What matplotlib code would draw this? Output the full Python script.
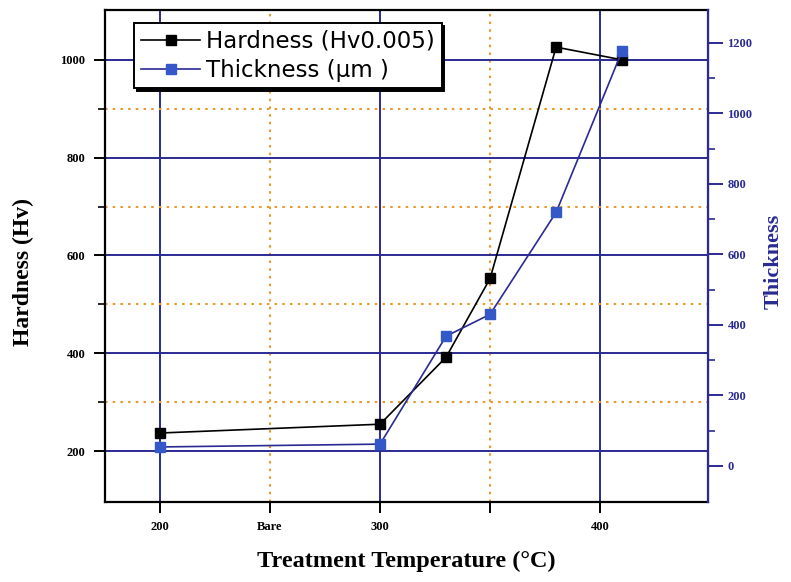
import matplotlib
matplotlib.use("Agg")
import matplotlib.pyplot as plt
from matplotlib.ticker import FixedLocator

# Data
temps = [200, 300, 330, 350, 380, 410]
hardness = [237, 255, 392, 553, 1026, 1000]
thickness = [54, 62, 368, 430, 719, 1177]

x_major = [200, 300, 400]
x_major_labels = ["200", "300", "400"]
x_minor = [250, 350]
x_minor_labels = ["Bare", ""]
h_major = [200, 400, 600, 800, 1000]
h_minor = [300, 500, 700, 900]
t_major = [0, 200, 400, 600, 800, 1000, 1200]
t_minor = [100, 300, 500, 700, 900, 1100]

navy = "#2a2a94"
orange = "#e89a2a"
blue_marker = "#3558c8"

fig = plt.figure(figsize=(7.91, 5.82), dpi=100)
ax = fig.add_axes([0.1327, 0.1375, 0.7623, 0.8454])
ax2 = ax.twinx()

serif = "Liberation Serif"

ax.set_xlim(175, 449)
ax.set_ylim(96, 1102)
ax2.set_ylim(-102, 1293)

ax.xaxis.set_major_locator(FixedLocator(x_major))
ax.set_xticklabels(x_major_labels)
ax.xaxis.set_minor_locator(FixedLocator(x_minor))
ax.set_xticklabels(x_minor_labels, minor=True)
ax.yaxis.set_major_locator(FixedLocator(h_major))
ax.yaxis.set_minor_locator(FixedLocator(h_minor))
ax2.yaxis.set_major_locator(FixedLocator(t_major))
ax2.yaxis.set_minor_locator(FixedLocator(t_minor))

ax.set_axisbelow(True)
ax.grid(which="major", color=navy, linewidth=1.4, linestyle="-")
ax.grid(which="minor", color=orange, linewidth=1.5, linestyle=(0, (1.2, 2.5)))

ax.plot(temps, hardness, color="black", linewidth=1.2, marker="s",
        markersize=6.5, markerfacecolor="black", markeredgecolor="black",
        label="Hardness (Hv0.005)", zorder=3)
ax2.plot(temps, thickness, color=navy, linewidth=1.2, marker="s",
         markersize=6.5, markerfacecolor=blue_marker, markeredgecolor=blue_marker,
         label="Thickness (\u00b5m )", zorder=3)

for s in ["left", "bottom", "top"]:
    ax.spines[s].set_linewidth(1.6)
    ax.spines[s].set_color("black")
ax2.spines["right"].set_color(navy)
ax2.spines["right"].set_linewidth(1.6)
for s in ["left", "bottom", "top"]:
    ax2.spines[s].set_visible(False)

ax.tick_params(axis="both", which="major", direction="out", length=8, width=1.4,
               colors="black", labelsize=9, pad=6)
ax.tick_params(axis="x", which="minor", direction="out", length=8, width=1.4,
               labelsize=9)
ax.tick_params(axis="y", which="minor", direction="out", length=5, width=1.2)
ax.tick_params(axis="x", which="both", pad=6)
ax2.tick_params(axis="y", which="major", direction="out", length=11, width=1.4,
                colors=navy, labelsize=9, pad=3)
ax2.tick_params(axis="y", which="minor", direction="out", length=5, width=1.2,
                colors=navy)

for lab in ax.get_xticklabels() + ax.get_xticklabels(minor=True) + ax.get_yticklabels() + ax2.get_yticklabels():
    lab.set_fontfamily(serif)
    lab.set_fontweight("bold")

ax.set_xlabel("Treatment Temperature (\u00b0C)", fontfamily=serif, fontweight="bold",
              fontsize=17.5)
ax.xaxis.set_label_coords(0.5, -0.1)
ax.set_ylabel("Hardness (Hv)", fontfamily=serif, fontweight="bold", fontsize=17)
ax.yaxis.set_label_coords(-0.117, 0.467)
ax2.set_ylabel("Thickness", fontfamily=serif, fontweight="bold", fontsize=16,
               color=navy, rotation=90)
ax2.yaxis.set_label_coords(1.093, 0.49)

h1, l1 = ax.get_legend_handles_labels()
h2, l2 = ax2.get_legend_handles_labels()
leg = ax2.legend(h1 + h2, l1 + l2, loc="upper left", bbox_to_anchor=(0.048, 0.9736),
                 frameon=True, fancybox=False, edgecolor="black",
                 shadow={"color": "black", "alpha": 1.0},
                 prop={"family": "DejaVu Sans", "size": 16.5},
                 handlelength=2.6, handletextpad=0.25, borderpad=0.3,
                 labelspacing=0.25, borderaxespad=0)
leg.get_frame().set_linewidth(1.4)
leg.set_zorder(10)

fig.savefig("out.png", dpi=100)
